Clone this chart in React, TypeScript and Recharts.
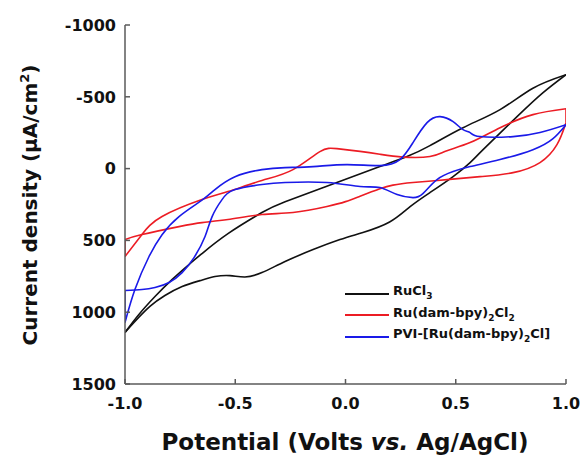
import React from 'react';
import { LineChart, Line, XAxis, YAxis, Legend } from 'recharts';

// Cyclic voltammograms: potential (V vs. Ag/AgCl) against current density (µA/cm²).
// Each loop is stored as two branches ordered by potential, plus short closing segments.

const POTENTIAL_TICKS = [-1, -0.5, 0, 0.5, 1];
const CURRENT_TICKS = [-1000, -500, 0, 500, 1000, 1500];

type Pt = [number, number];

const rucl3Upper: Pt[] = [
  [-1.0, 1141], [-0.937, 1016], [-0.864, 891], [-0.787, 773], [-0.71, 668], [-0.651, 592],
  [-0.533, 453], [-0.379, 306], [-0.274, 230], [-0.039, 97], [0.156, -14], [0.279, -84],
  [0.383, -160], [0.533, -285], [0.701, -411], [0.85, -560], [1.0, -654],
];
const rucl3Lower: Pt[] = [
  [-1.0, 1141], [-0.955, 1065], [-0.887, 960], [-0.819, 884], [-0.741, 821], [-0.66, 780],
  [-0.592, 752], [-0.524, 745], [-0.456, 755], [-0.379, 724], [-0.274, 647], [-0.147, 564],
  [-0.025, 494], [0.079, 445], [0.2, 372], [0.293, 265], [0.383, 167], [0.488, 56],
  [0.565, -42], [0.624, -132], [0.778, -362], [0.896, -529], [1.0, -654],
];

const ruBpyUpper: Pt[] = [
  [-1.0, 612], [-0.923, 459], [-0.832, 334], [-0.651, 216], [-0.533, 160], [-0.379, 83],
  [-0.238, 7], [-0.116, -118], [-0.039, -139], [0.066, -120], [0.156, -100], [0.261, -80],
  [0.383, -84], [0.46, -125], [0.565, -181], [0.701, -285], [0.85, -376], [1.0, -417],
];
const ruBpyLower: Pt[] = [
  [-1.0, 494], [-0.923, 459], [-0.755, 404], [-0.651, 376], [-0.533, 355], [-0.379, 320],
  [-0.238, 306], [-0.084, 264], [0.0, 230], [0.066, 192], [0.156, 140], [0.215, 115],
  [0.306, 97], [0.46, 77], [0.61, 56], [0.76, 28], [0.882, -42], [0.959, -167], [1.0, -320],
];
const ruBpyRightEdge: Pt[] = [[1.0, -417], [1.0, -320]];
const ruBpyLeftEdge: Pt[] = [[-1.0, 494], [-1.0, 612]];

const pviUpper: Pt[] = [
  [-1.0, 1072], [-0.955, 842], [-0.891, 612], [-0.832, 460], [-0.755, 334], [-0.651, 220],
  [-0.592, 146], [-0.501, 56], [-0.379, 7], [-0.274, -7], [-0.147, -14], [0.007, -28],
  [0.156, -21], [0.247, -63], [0.306, -181], [0.37, -320], [0.429, -362], [0.488, -327],
  [0.533, -271], [0.565, -251], [0.61, -223], [0.76, -223], [0.882, -251], [1.0, -306],
];
const pviLower: Pt[] = [
  [-1.0, 849], [-0.923, 842], [-0.864, 828], [-0.8, 793], [-0.741, 724], [-0.687, 620],
  [-0.637, 473], [-0.605, 334], [-0.56, 216], [-0.501, 146], [-0.379, 111], [-0.274, 97],
  [-0.084, 97], [0.066, 125], [0.156, 132], [0.234, 181], [0.306, 202], [0.351, 174],
  [0.415, 77], [0.488, 21], [0.565, -14], [0.701, -63], [0.85, -132], [0.941, -209], [1.0, -306],
];
const pviLeftEdge: Pt[] = [[-1.0, 849], [-1.0, 1072]];

const BLACK = '#111111';
const RED = '#ec1c24';
const BLUE = '#1a1ae8';
const AXIS = '#5a5a5a';
const FONT = '"DejaVu Sans", "Liberation Sans", Arial, sans-serif';

const toRows = (pts: Pt[]) => pts.map(([v, i]) => ({ v, i }));

const curves: { key: string; pts: Pt[]; color: string; kind: 'natural' | 'linear' }[] = [
  { key: 'rucl3-up', pts: rucl3Upper, color: BLACK, kind: 'natural' },
  { key: 'rucl3-down', pts: rucl3Lower, color: BLACK, kind: 'natural' },
  { key: 'rubpy-up', pts: ruBpyUpper, color: RED, kind: 'natural' },
  { key: 'rubpy-down', pts: ruBpyLower, color: RED, kind: 'natural' },
  { key: 'rubpy-r', pts: ruBpyRightEdge, color: RED, kind: 'linear' },
  { key: 'rubpy-l', pts: ruBpyLeftEdge, color: RED, kind: 'linear' },
  { key: 'pvi-up', pts: pviUpper, color: BLUE, kind: 'natural' },
  { key: 'pvi-down', pts: pviLower, color: BLUE, kind: 'natural' },
  { key: 'pvi-l', pts: pviLeftEdge, color: BLUE, kind: 'linear' },
];

const YTick = (props: any) => {
  const { x, y, payload } = props;
  return (
    <g>
      <line x1={x} x2={x + 5} y1={y} y2={y} stroke={AXIS} strokeWidth={1.5} />
      <text x={x - 9} y={y} dy="0.36em" textAnchor="end" fontFamily={FONT} fontWeight="bold" fontSize={16} fill="#111">
        {payload.value}
      </text>
    </g>
  );
};

const XTick = (props: any) => {
  const { x, y, payload } = props;
  return (
    <g>
      <line x1={x} x2={x} y1={y} y2={y - 5} stroke={AXIS} strokeWidth={1.5} />
      <text x={x} y={y + 25} textAnchor="middle" fontFamily={FONT} fontWeight="bold" fontSize={16} fill="#111">
        {Number(payload.value).toFixed(1)}
      </text>
    </g>
  );
};

const XTitle = () => (
  <text x={345} y={450} textAnchor="middle" fontFamily={FONT} fontWeight="bold" fontSize={23} fill="#111">
    Potential (Volts <tspan fontStyle="italic">vs.</tspan> Ag/AgCl)
  </text>
);

const YTitle = () => (
  <text
    x={0}
    y={0}
    transform="translate(37, 205) rotate(-90)"
    textAnchor="middle"
    fontFamily={FONT}
    fontWeight="bold"
    fontSize={20}
    fill="#111"
  >
    Current density (μA/cm<tspan dy={-8} fontSize={13}>2</tspan>
    <tspan dy={8}>)</tspan>
  </text>
);

const legendRows = [
  { color: BLACK, label: <>RuCl<sub style={{ fontSize: 9 }}>3</sub></> },
  { color: RED, label: <>Ru(dam-bpy)<sub style={{ fontSize: 9 }}>2</sub>Cl<sub style={{ fontSize: 9 }}>2</sub></> },
  { color: BLUE, label: <>PVI-[Ru(dam-bpy)<sub style={{ fontSize: 9 }}>2</sub>Cl]</> },
];

const LegendBox = () => (
  <div style={{ fontFamily: FONT, fontWeight: 'bold', fontSize: 13, color: '#111' }}>
    {legendRows.map((r, idx) => (
      <div key={idx} style={{ display: 'flex', alignItems: 'center', height: 21.5 }}>
        <svg width={44} height={4} style={{ display: 'block' }}>
          <line x1={0} x2={44} y1={2} y2={2} stroke={r.color} strokeWidth={1.8} />
        </svg>
        <span style={{ marginLeft: 4, whiteSpace: 'nowrap', lineHeight: '16px' }}>{r.label}</span>
      </div>
    ))}
  </div>
);

export default function App() {
  return (
    <div style={{ position: 'absolute', left: 0, top: 0, background: '#fff' }}>
      <LineChart width={583} height={458} margin={{ top: 25, right: 17, bottom: 44, left: 65 }}>
        <XAxis
          type="number"
          dataKey="v"
          domain={[-1, 1]}
          ticks={POTENTIAL_TICKS}
          allowDataOverflow
          height={30}
          tickSize={0}
          tickMargin={0}
          tick={<XTick />}
          stroke={AXIS}
          strokeWidth={1.5}
          label={{ content: () => <XTitle /> }}
        />
        <YAxis
          type="number"
          domain={[-1000, 1500]}
          ticks={CURRENT_TICKS}
          reversed
          allowDataOverflow
          width={60}
          tickSize={0}
          tickMargin={0}
          tick={<YTick />}
          stroke={AXIS}
          strokeWidth={1.5}
          label={{ content: () => <YTitle /> }}
        />
        {curves.map((c) => (
          <Line
            key={c.key}
            data={toRows(c.pts)}
            dataKey="i"
            type={c.kind}
            stroke={c.color}
            strokeWidth={1.6}
            dot={false}
            activeDot={false}
            legendType="none"
            isAnimationActive={false}
          />
        ))}
        <Legend
          layout="vertical"
          align="center"
          verticalAlign="middle"
          content={<LegendBox />}
          wrapperStyle={{ left: 345, top: 283, width: 230 }}
        />
      </LineChart>
    </div>
  );
}
